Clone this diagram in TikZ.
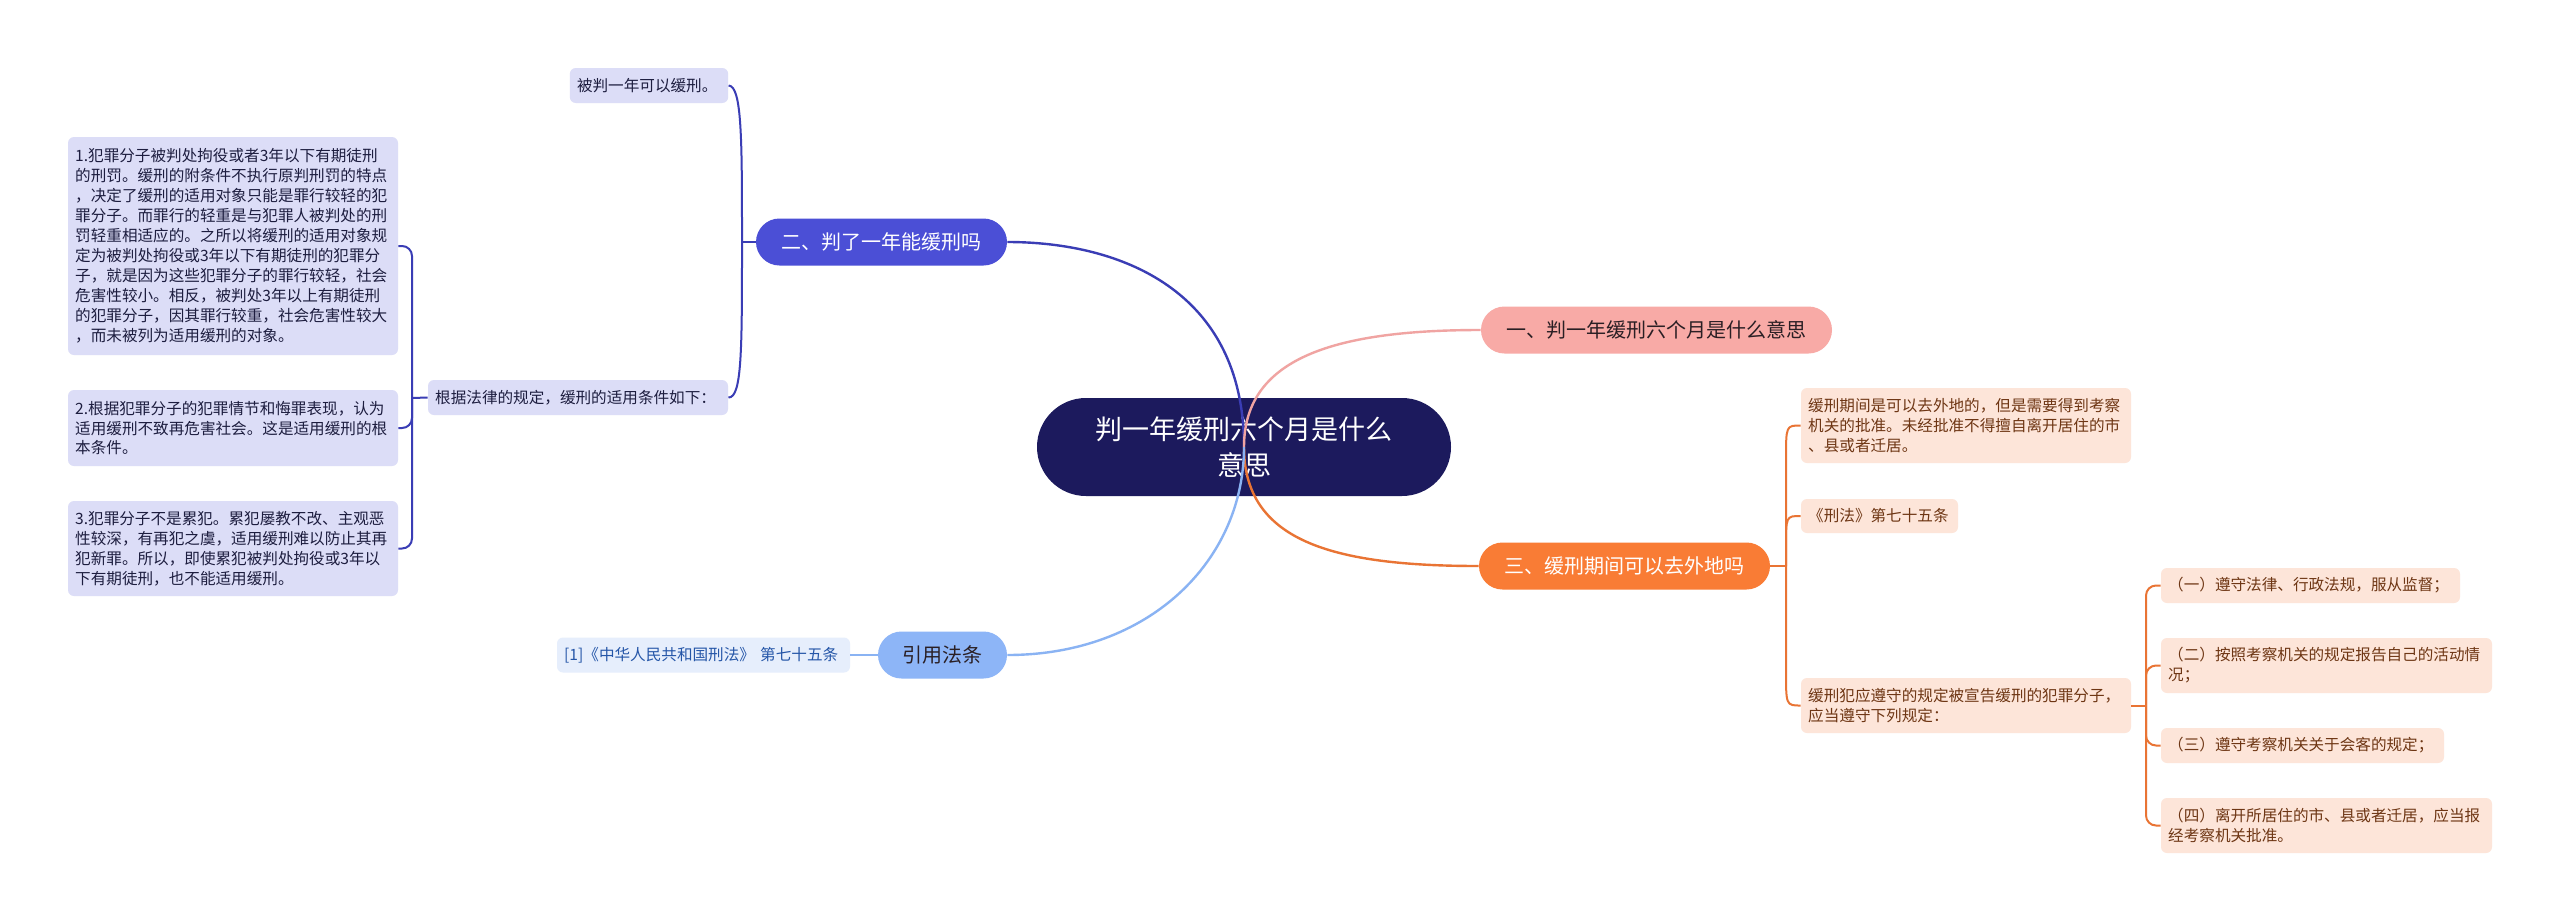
\documentclass[tikz,border=0pt]{standalone}
\usepackage{fontspec}
\setmainfont{Noto Sans CJK SC}
\definecolor{rootfill}{HTML}{1C1A5D}
\definecolor{twofill}{HTML}{4B4FD6}
\definecolor{twoline}{HTML}{3A3DB5}
\definecolor{onefill}{HTML}{F8AAA6}
\definecolor{oneline}{HTML}{F0A4A2}
\definecolor{threefill}{HTML}{F97C35}
\definecolor{threeline}{HTML}{E97434}
\definecolor{citefill}{HTML}{8DB5F7}
\definecolor{citeline}{HTML}{8AB3F3}
\definecolor{lavleaf}{HTML}{DCDDF7}
\definecolor{lavtext}{HTML}{1D1D3F}
\definecolor{orleaf}{HTML}{FDE5D9}
\definecolor{ortext}{HTML}{6E3614}
\definecolor{cleaf}{HTML}{E6EEFC}
\definecolor{ctext}{HTML}{2556A8}
\definecolor{darktext}{HTML}{2A1F24}
\tikzset{
  mainnode/.style={rounded corners=11.75pt, minimum height=23.5pt, inner ysep=0pt, inner xsep=0pt, font=\fontsize{10}{12}\selectfont},
  leafbox/.style={rounded corners=3pt, inner xsep=3.6pt, inner ysep=0pt, align=left, font=\fontsize{7.8}{10}\selectfont},
  lavbox/.style={leafbox, fill=lavleaf, text=lavtext},
  orbox/.style={leafbox, fill=orleaf, text=ortext},
  citebox/.style={leafbox, fill=cleaf, text=ctext},
  twolink/.style={draw=twoline, line width=1pt},
  orlink/.style={draw=threeline, line width=1pt},
}
\begin{document}
\begin{tikzpicture}[x=0.5pt, y=-0.5pt]
\useasboundingbox (0,0) rectangle (2560,922);
\fill[white] (0,0) rectangle (2560,922);

% root
\node[fill=rootfill, text=white, rounded corners=24.5pt, minimum width=207pt, minimum height=49pt, inner sep=0pt, align=center, font=\fontsize{13.5}{18}\selectfont] (root) at (1244,447) {判一年缓刑六个月是什么\\意思};

% main nodes
\node[mainnode, fill=onefill, text=darktext, minimum width=175.5pt] (n1) at (1656.5,330) {一、判一年缓刑六个月是什么意思};
\node[mainnode, fill=twofill, text=white, minimum width=125.5pt] (n2) at (881.5,242) {二、判了一年能缓刑吗};
\node[mainnode, fill=threefill, text=white, minimum width=145.5pt] (n3) at (1624.5,566) {三、缓刑期间可以去外地吗};
\node[mainnode, fill=citefill, text=darktext, minimum width=64.5pt] (n4) at (942.5,655) {引用法条};

% root connectors
\draw[draw=twoline, line width=1.2pt] (root.center) .. controls (1244,290) and (1120,242) .. (n2.east);
\draw[draw=oneline, line width=1.2pt] (root.center) .. controls (1244,360) and (1330,330) .. (n1.west);
\draw[draw=threeline, line width=1.2pt] (root.center) .. controls (1244,540) and (1330,566) .. (n3.west);
\draw[draw=citeline, line width=1.2pt] (root.center) .. controls (1244,560) and (1150,655) .. (n4.east);

% branch two leaves
\node[lavbox, text width=72pt, minimum height=17.5pt] (l1) at (649,85.5) {被判一年可以缓刑。};
\node[lavbox, text width=142.8pt, minimum height=17.5pt] (l2) at (578,397.5) {根据法律的规定，缓刑的适用条件如下：};
\node[lavbox, text width=157.8pt, minimum height=109pt] (b1) at (233,246) {1.犯罪分子被判处拘役或者3年以下有期徒刑\\的刑罚。缓刑的附条件不执行原判刑罚的特点\\，决定了缓刑的适用对象只能是罪行较轻的犯\\罪分子。而罪行的轻重是与犯罪人被判处的刑\\罚轻重相适应的。之所以将缓刑的适用对象规\\定为被判处拘役或3年以下有期徒刑的犯罪分\\子，就是因为这些犯罪分子的罪行较轻，社会\\危害性较小。相反，被判处3年以上有期徒刑\\的犯罪分子，因其罪行较重，社会危害性较大\\，而未被列为适用缓刑的对象。};
\node[lavbox, text width=157.8pt, minimum height=38pt] (b2) at (233,428) {2.根据犯罪分子的犯罪情节和悔罪表现，认为\\适用缓刑不致再危害社会。这是适用缓刑的根\\本条件。};
\node[lavbox, text width=157.8pt, minimum height=47.5pt] (b3) at (233,548.5) {3.犯罪分子不是累犯。累犯屡教不改、主观恶\\性较深，有再犯之虞，适用缓刑难以防止其再\\犯新罪。所以，即使累犯被判处拘役或3年以\\下有期徒刑，也不能适用缓刑。};

\coordinate (j2) at (742,242);
\draw[twolink] (n2.west) -- (j2);
\draw[twolink] (j2) .. controls (742,140) and (742,86) .. (l1.east);
\draw[twolink] (j2) .. controls (742,350) and (742,398) .. (l2.east);
\coordinate (jb) at (412,398);
\draw[twolink] (l2.west) -- (jb);
\draw[twolink, rounded corners=5pt] (jb) |- (b1.east);
\draw[twolink, rounded corners=5pt] (jb) |- (b2.east);
\draw[twolink, rounded corners=5pt] (jb) |- (b3.east);

% citation leaf
\node[citebox, text width=139.3pt, minimum height=17.5pt] (c1) at (703.5,655) {[1]《中华人民共和国刑法》 第七十五条};
\draw[draw=citeline, line width=1pt] (n4.west) -- (c1.east);

% branch three leaves
\node[orbox, text width=157.8pt, minimum height=37.5pt] (o1) at (1966,425.5) {缓刑期间是可以去外地的，但是需要得到考察\\机关的批准。未经批准不得擅自离开居住的市\\、县或者迁居。};
\node[orbox, text width=71.3pt, minimum height=17pt] (o2) at (1879.5,516) {《刑法》第七十五条};
\node[orbox, text width=157.8pt, minimum height=27.5pt] (o3) at (1966,705.5) {缓刑犯应遵守的规定被宣告缓刑的犯罪分子，\\应当遵守下列规定：};

\coordinate (j3) at (1786,566);
\draw[orlink] (n3.east) -- (j3);
\draw[orlink] (j3) -- (1786,460) .. controls (1786,425.5) .. (o1.west);
\draw[orlink] (j3) -- (1786,548) .. controls (1786,516) .. (o2.west);
\draw[orlink] (j3) -- (1786,670) .. controls (1786,705.5) .. (o3.west);

\node[orbox, text width=142.3pt, minimum height=17.5pt] (s1) at (2310.5,585.5) {（一）遵守法律、行政法规，服从监督；};
\node[orbox, text width=158.3pt, minimum height=27.5pt] (s2) at (2326.5,665.5) {（二）按照考察机关的规定报告自己的活动情\\况；};
\node[orbox, text width=134.3pt, minimum height=17.5pt] (s3) at (2302.5,745.5) {（三）遵守考察机关关于会客的规定；};
\node[orbox, text width=158.3pt, minimum height=27.5pt] (s4) at (2326.5,825.5) {（四）离开所居住的市、县或者迁居，应当报\\经考察机关批准。};

\coordinate (js) at (2146,705.5);
\draw[orlink] (o3.east) -- (js);
\draw[orlink, rounded corners=5pt] (js) |- (s1.west);
\draw[orlink, rounded corners=5pt] (js) |- (s2.west);
\draw[orlink, rounded corners=5pt] (js) |- (s3.west);
\draw[orlink, rounded corners=5pt] (js) |- (s4.west);
\end{tikzpicture}
\end{document}
